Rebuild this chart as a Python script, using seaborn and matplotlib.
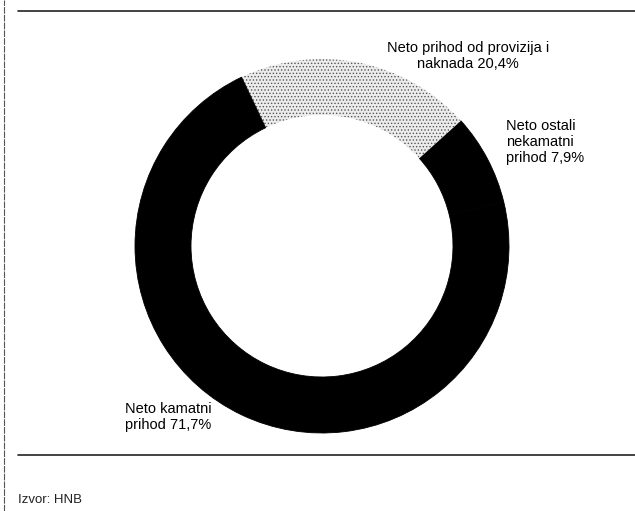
import matplotlib
matplotlib.use("Agg")
import matplotlib.pyplot as plt
import seaborn as sns

# data
labels = ["Neto ostali\nnekamatni\nprihod 7,9%",
          "Neto prihod od provizija i\nnaknada 20,4%",
          "Neto kamatni\nprihod 71,7%"]
shares = [7.9, 20.4, 71.7]
source = "Izvor: HNB"

sns.set_style("white")
plt.rcParams['font.family'] = ['Liberation Sans', 'DejaVu Sans']
plt.rcParams['hatch.linewidth'] = 0.6

W, H = 635, 511
fig = plt.figure(figsize=(W / 100, H / 100), dpi=100)
ax = fig.add_axes([0, 0, 1, 1])

wedges, _ = ax.pie(shares, startangle=13.6, counterclock=True,
                   colors=['black', '#ececec', 'black'],
                   center=(322, H - 246), radius=187,
                   wedgeprops=dict(width=56, edgecolor='black', linewidth=0.6))
# stippled slice
wedges[1].set_edgecolor('#555555')
wedges[1].set_linewidth(0)
wedges[1].set_hatch('.....')

ax.set_xlim(0, W)
ax.set_ylim(0, H)
ax.set_aspect('equal')
ax.axis('off')

# labels
fs = 10.5
ax.text(506, H - 142, labels[0], ha='left', va='center', fontsize=fs,
        linespacing=1.15, color='black')
ax.text(468, H - 56, labels[1], ha='center', va='center', fontsize=fs,
        linespacing=1.15, color='black')
ax.text(168, H - 417, labels[2], ha='center', va='center', fontsize=fs,
        linespacing=1.15, color='black')

# rules and source
ax.axhline(H - 11, xmin=18 / W, xmax=1, color='#222222', lw=1.2)
ax.axhline(H - 455, xmin=18 / W, xmax=1, color='#222222', lw=1.2)
ax.axvline(4, color='#555555', lw=0.8, ls=(0, (6, 1)))
ax.text(18, H - 500, source, ha='left', va='center', fontsize=9.5,
        color='#222222')

fig.savefig("out.png", dpi=100)
